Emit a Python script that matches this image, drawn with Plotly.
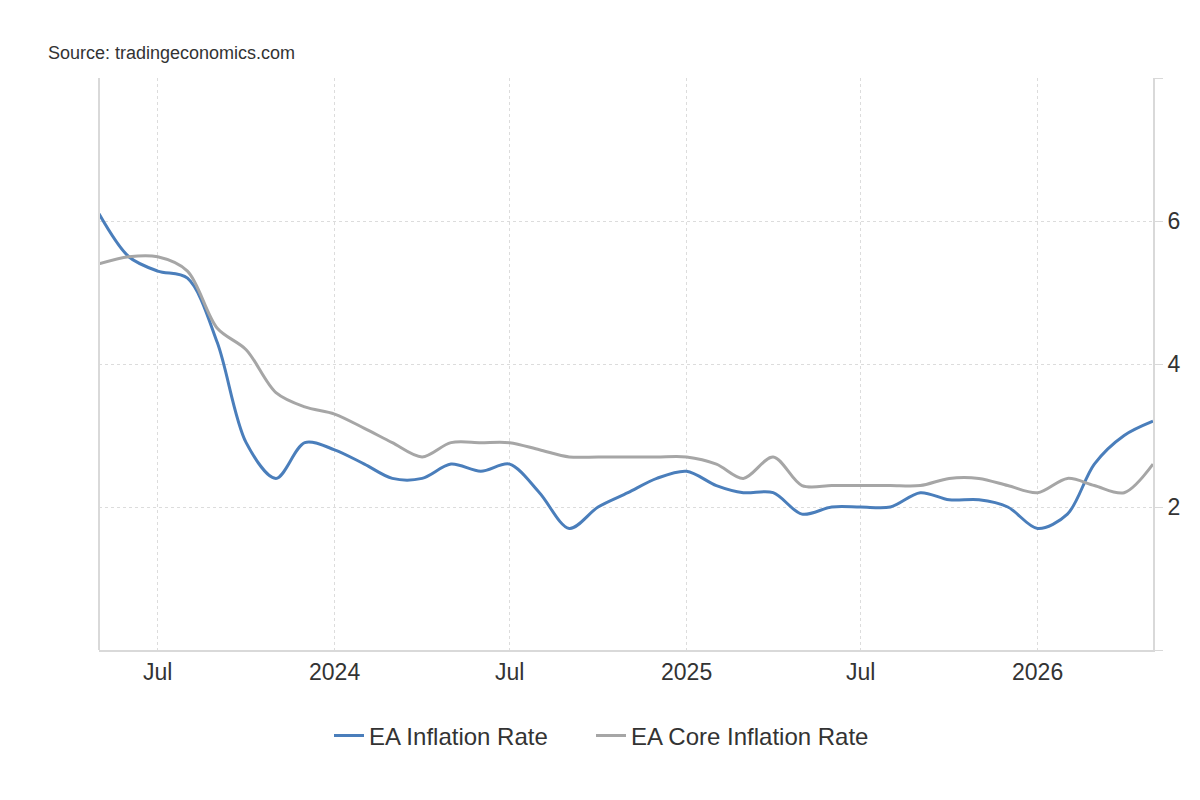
import plotly.graph_objects as go
import pandas as pd

months = pd.date_range("2023-05-01", "2026-05-01", freq="MS")

ea_inflation = [6.1, 5.5, 5.3, 5.2, 4.3, 2.9, 2.4, 2.9, 2.8, 2.6, 2.4, 2.4,
                2.6, 2.5, 2.6, 2.2, 1.7, 2.0, 2.2, 2.4, 2.5, 2.3, 2.2, 2.2,
                1.9, 2.0, 2.0, 2.0, 2.2, 2.1, 2.1, 2.0, 1.7, 1.9, 2.6, 3.0, 3.2]
ea_core = [5.4, 5.5, 5.5, 5.3, 4.5, 4.2, 3.6, 3.4, 3.3, 3.1, 2.9, 2.7,
           2.9, 2.9, 2.9, 2.8, 2.7, 2.7, 2.7, 2.7, 2.7, 2.6, 2.4, 2.7,
           2.3, 2.3, 2.3, 2.3, 2.3, 2.4, 2.4, 2.3, 2.2, 2.4, 2.3, 2.2, 2.6]

x_tickvals = ["2023-07-01", "2024-01-01", "2024-07-01", "2025-01-01", "2025-07-01", "2026-01-01"]
x_ticktext = ["Jul", "2024", "Jul", "2025", "Jul", "2026"]
y_tickvals = [0, 2, 4, 6, 8]
y_ticktext = ["", "2", "4", "6", ""]

FONT = "Arial, Liberation Sans, sans-serif"
GRID = "#dcdcdc"
AXIS = "#d9d9d9"

fig = go.Figure()
fig.add_trace(go.Scatter(x=months, y=ea_inflation, mode="lines", name="EA Inflation Rate",
                         legend="legend",
                         line=dict(color="#4a7ebb", width=3, shape="spline", smoothing=0.9)))
fig.add_trace(go.Scatter(x=months, y=ea_core, mode="lines", name="EA Core Inflation Rate",
                         legend="legend2",
                         line=dict(color="#a6a6a6", width=3, shape="spline", smoothing=0.9)))

leg_common = dict(orientation="h", xref="container", xanchor="left",
                  yref="container", y=0.08, yanchor="middle",
                  font=dict(size=24, color="#333333", family=FONT),
                  itemwidth=30, bgcolor="rgba(0,0,0,0)")

fig.update_layout(
    width=1200, height=800,
    margin=dict(l=99, r=47, t=78, b=150),
    paper_bgcolor="white", plot_bgcolor="white",
    font=dict(family=FONT, color="#333333"),
    showlegend=True,
    legend=dict(x=329 / 1200, **leg_common),
    legend2=dict(x=591 / 1200, **leg_common),
    xaxis=dict(
        range=[months[0], months[-1]],
        tickvals=x_tickvals, ticktext=x_ticktext,
        tickfont=dict(size=23, color="#333333"),
        showgrid=True, gridcolor=GRID, griddash="dot", gridwidth=1,
        showline=True, linecolor=AXIS, linewidth=2,
        ticks="", zeroline=False,
    ),
    yaxis=dict(
        side="right", range=[0, 8],
        tickvals=y_tickvals, ticktext=y_ticktext,
        tickfont=dict(size=23, color="#333333"),
        showgrid=True, gridcolor=GRID, griddash="dot", gridwidth=1,
        showline=True, linecolor=AXIS, linewidth=2,
        ticks="outside", ticklen=8, tickcolor=AXIS,
        zeroline=False,
    ),
    annotations=[dict(text="Source: tradingeconomics.com", xref="paper", yref="paper",
                      x=-99/1054 + 46/1054, y=1 + 25/572, xanchor="left", yanchor="middle",
                      showarrow=False, font=dict(size=18, color="#333333", family=FONT))],
    shapes=[dict(type="line", xref="paper", yref="paper", x0=0, x1=0, y0=0, y1=1,
                 line=dict(color=AXIS, width=2))],
)

fig.write_html("out.html")
